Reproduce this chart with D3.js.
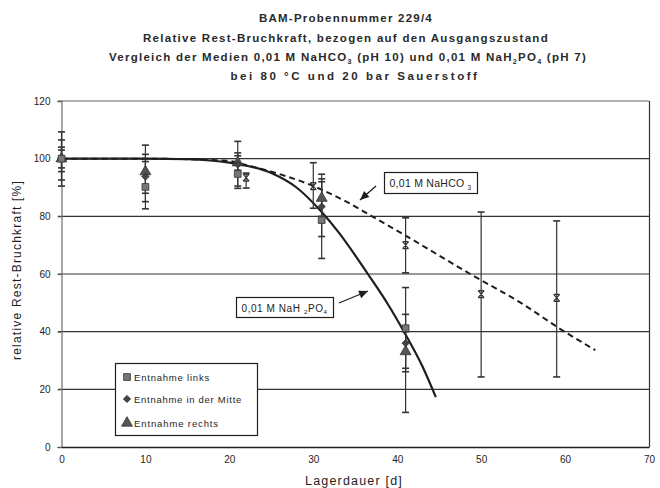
<!DOCTYPE html>
<html><head><meta charset="utf-8">
<script src="https://cdn.jsdelivr.net/npm/d3@7"></script>
<style>
html,body{margin:0;padding:0;background:#fff;}
svg{display:block;font-family:"Liberation Sans",Arial,sans-serif;}
</style></head>
<body>
<svg id="c" width="660" height="488"></svg>
<script>
// ---- data ----
const titleLines = [
  [["BAM-Probennummer 229/4"]],
  [["Relative Rest-Bruchkraft, bezogen auf den Ausgangszustand"]],
  [["Vergleich der Medien 0,01 M NaHCO"],["3","sub"],[" (pH 10) und 0,01 M NaH"],["2","sub"],["PO"],["4","sub"],[" (pH 7)"]],
  [["bei 80 °C und 20 bar Sauerstoff"]]
];
const yLabel = "relative Rest-Bruchkraft [%]";
const xLabel = "Lagerdauer [d]";
const xTicks = [0,10,20,30,40,50,60,70];
const yTicks = [0,20,40,60,80,100,120];

// Entnahme links (square)
const linksDays  = [0, 10, 21, 31, 41];
const linksVal   = [100, 90.2, 94.7, 78.7, 41.2];
const linksLow   = [90.5, 82.6, 89.7, 65.4, 12];
const linksHigh  = [109.3, 104.7, 106, 94.6, 55.3];
// Entnahme in der Mitte (diamond)
const mitteDays  = [0, 10, 21, 31, 41];
const mitteVal   = [100, 93.8, 98, 83.4, 36];
const mitteLow   = [92.6, 85.1, 90.5, 73, 27.3];
const mitteHigh  = [106.5, 101.5, 102, 93, 46];
// Entnahme rechts (triangle)
const rechtsDays = [0, 10, 21, 31, 41];
const rechtsVal  = [100, 95.5, 98.6, 86.3, 33.1];
const rechtsLow  = [95.5, 88, 96, 80, 26.1];
const rechtsHigh = [104, 99, 101, 92, 40];
// NaHCO3 (cross)
const bicDays    = [0, 22, 30, 41, 50, 59];
const bicVal     = [100, 93.4, 90.5, 70, 53, 51.7];
const bicLow     = [96.8, 89.8, 82.8, 60.4, 24.3, 24.3];
const bicHigh    = [103, 95, 98.6, 79.5, 81.5, 78.4];

// fitted curves
const phosCurveX = [0, 10, 15, 20, 25, 28, 31, 33, 36.5, 39, 40.8, 43, 44.6];
const phosCurveY = [100, 100, 99.8, 98.6, 95, 90, 81.5, 74.5, 60, 49, 40, 28, 17.3];
const bicCurveX  = [0, 10, 20, 22, 25, 30, 34, 37, 41, 48.7, 55, 59.4, 63.6];
const bicCurveY  = [100, 100, 99.2, 97.8, 95.5, 90.5, 85, 80, 73.3, 60, 49.5, 41, 33.6];

const legendLabels = ["Entnahme links", "Entnahme in der Mitte", "Entnahme rechts"];
const annBic = [["0,01 M NaHCO "],["3","sub"]];
const annPhos = [["0,01 M NaH "],["2","sub"],["PO"],["4","sub"]];

// ---- drawing ----
const svg = d3.select("#c");
const x = d3.scaleLinear().domain([0,70]).range([61.5,649]);
const y = d3.scaleLinear().domain([0,120]).range([447,101]);
const ink = "#1e1e1e";

function richText(sel, parts, size){
  parts.forEach((p,i)=>{
    const t = sel.append("tspan").text(p[0]);
    const prev = i>0 ? parts[i-1][1] : null;
    if(p[1]==="sub"){ t.attr("font-size", size*0.62).attr("dy", size*0.25); }
    else if(prev==="sub"){ t.attr("dy", -size*0.25); }
  });
}
function fitWidth(sel, target){
  const n = sel.text().length;
  const len = sel.node().getComputedTextLength();
  sel.attr("letter-spacing", ((target-len)/n).toFixed(3));
}

// title
const titleSpec = [
  {cx:346, y:22, w:174},
  {cx:346, y:42, w:406},
  {cx:348, y:61, w:478},
  {cx:355, y:80, w:249}
];
titleLines.forEach((parts,i)=>{
  const s = titleSpec[i];
  const t = svg.append("text").attr("x", s.cx).attr("y", s.y)
    .attr("text-anchor","middle").attr("font-size",11.5).attr("fill","#2a2a2a")
    .attr("font-weight","bold");
  richText(t, parts, 11.5);
  fitWidth(t, s.w);
});

// gridlines
svg.append("g").selectAll("line").data(yTicks.filter(d=>d>0)).join("line")
  .attr("x1", 58).attr("x2", 649)
  .attr("y1", d=>y(d)).attr("y2", d=>y(d))
  .attr("stroke", d=> d===120 ? "#666" : "#333").attr("stroke-width", 1.1);
// right border
svg.append("line").attr("x1",649.5).attr("x2",649.5).attr("y1",y(120)).attr("y2",y(0))
  .attr("stroke","#333").attr("stroke-width",1.2);
// left axis
const yAxis = d3.axisLeft(y).tickValues(yTicks).tickSize(4).tickFormat(d3.format("d"));
const ga = svg.append("g").attr("transform",`translate(${x(0)},0)`).call(yAxis);
ga.select(".domain").attr("stroke","#777").attr("stroke-width",1.3);
ga.selectAll(".tick line").attr("stroke","#555");
ga.selectAll(".tick text").attr("font-size",10).attr("fill",ink).attr("x",-11)
  .attr("font-family","Liberation Sans, Arial, sans-serif");
// bottom axis
const xAxis = d3.axisBottom(x).tickValues(xTicks).tickSize(0).tickPadding(9).tickFormat(d3.format("d"));
const gb = svg.append("g").attr("transform",`translate(0,${y(0)})`).call(xAxis);
gb.select(".domain").attr("stroke",ink).attr("stroke-width",1.6);
gb.selectAll(".tick text").attr("font-size",10).attr("fill",ink)
  .attr("font-family","Liberation Sans, Arial, sans-serif");

// axis labels
const yl = svg.append("text").attr("transform","translate(21,270) rotate(-90)")
  .attr("text-anchor","middle").attr("font-size",12).attr("fill",ink).text(yLabel);
fitWidth(yl, 180);
const xl = svg.append("text").attr("x",354).attr("y",485)
  .attr("text-anchor","middle").attr("font-size",12.5).attr("fill",ink).text(xLabel);
fitWidth(xl, 98);

// curves
const line = d3.line().x(d=>x(d[0])).y(d=>y(d[1])).curve(d3.curveMonotoneX);
svg.append("path").datum(bicCurveX.map((d,i)=>[d,bicCurveY[i]]))
  .attr("d",line).attr("fill","none").attr("stroke",ink).attr("stroke-width",2)
  .attr("stroke-dasharray","6,4");
svg.append("path").datum(phosCurveX.map((d,i)=>[d,phosCurveY[i]]))
  .attr("d",line).attr("fill","none").attr("stroke",ink).attr("stroke-width",2.2);

// error bars
function errBars(days, low, high){
  const g = svg.append("g").attr("stroke","#333").attr("stroke-width",1.2);
  days.forEach((d,i)=>{
    const px = x(d);
    g.append("line").attr("x1",px).attr("x2",px).attr("y1",y(low[i])).attr("y2",y(high[i]));
    [low[i],high[i]].forEach(v=>{
      g.append("line").attr("x1",px-3.5).attr("x2",px+3.5).attr("y1",y(v)).attr("y2",y(v)).attr("stroke-width",1.6);
    });
  });
}
errBars(linksDays, linksLow, linksHigh);
errBars(mitteDays, mitteLow, mitteHigh);
errBars(rechtsDays, rechtsLow, rechtsHigh);
errBars(bicDays, bicLow, bicHigh);

// markers
const sq = d3.symbol().type(d3.symbolSquare).size(46);
const di = d3.symbol().type(d3.symbolSquare).size(26);
const tr = d3.symbol().type(d3.symbolTriangle).size(52);
function markers(days, vals, sym, fill, rot){
  svg.append("g").selectAll("path").data(days).join("path")
    .attr("transform",(d,i)=>`translate(${x(d)},${y(vals[i])}) rotate(${rot||0})`)
    .attr("d",sym).attr("fill",fill).attr("stroke","#333").attr("stroke-width",0.8);
}
markers(rechtsDays, rechtsVal, tr, "#555");
markers(mitteDays, mitteVal, di, "#444", 45);
markers(linksDays, linksVal, sq, "#777");
// crosses
const gx = svg.append("g").attr("stroke","#333").attr("stroke-width",1.2);
bicDays.forEach((d,i)=>{
  if(d===0) return;
  const px=x(d), py=y(bicVal[i]);
  gx.append("path").attr("d",`M${px-3},${py-3.5}L${px+3},${py+3.5}M${px+3},${py-3.5}L${px-3},${py+3.5}M${px-3},${py-3.5}H${px+3}M${px-3},${py+3.5}H${px+3}`);
});

// annotations
function annBox(x0,y0,w,h,parts,fs,tw){
  svg.append("rect").attr("x",x0).attr("y",y0).attr("width",w).attr("height",h)
    .attr("fill","#fff").attr("stroke",ink).attr("stroke-width",1.2);
  const t = svg.append("text").attr("x",x0+5).attr("y",y0+h/2+4)
    .attr("font-size",fs).attr("fill",ink);
  richText(t, parts, fs);
  fitWidth(t, tw);
  return t;
}
annBox(384.5,172.5,93,21,annBic,10.5,82);
annBox(236.5,297.5,97,20,annPhos,10,86);
function arrow(x1,y1,x2,y2){
  svg.append("line").attr("x1",x1).attr("y1",y1).attr("x2",x2).attr("y2",y2)
    .attr("stroke",ink).attr("stroke-width",1.3);
  const a = Math.atan2(y2-y1,x2-x1), L=9, W=4;
  const bx = x2 - L*Math.cos(a), by = y2 - L*Math.sin(a);
  const px = -Math.sin(a)*W, py = Math.cos(a)*W;
  svg.append("path").attr("d",`M${x2},${y2}L${bx+px},${by+py}L${bx-px},${by-py}Z`).attr("fill",ink);
}
arrow(376,186,360,200);
arrow(339,303,368,291);

// legend
svg.append("rect").attr("x",115.5).attr("y",363.5).attr("width",142).attr("height",72)
  .attr("fill","#fff").attr("stroke",ink).attr("stroke-width",1.2);
const legSyms = [[sq,"#777",0],[di,"#444",45],[tr,"#555",0]];
const legY = [377, 399, 423];
const legW = [76, 108, 85];
legendLabels.forEach((lab,i)=>{
  svg.append("path").attr("transform",`translate(127,${legY[i]}) rotate(${legSyms[i][2]})`)
    .attr("d", legSyms[i][0]).attr("fill",legSyms[i][1]).attr("stroke","#333").attr("stroke-width",0.8);
  const t = svg.append("text").attr("x",134).attr("y",legY[i]+3.5).attr("font-size",9.5).attr("fill",ink).text(lab);
  fitWidth(t, legW[i]);
});
</script>
</body></html>
